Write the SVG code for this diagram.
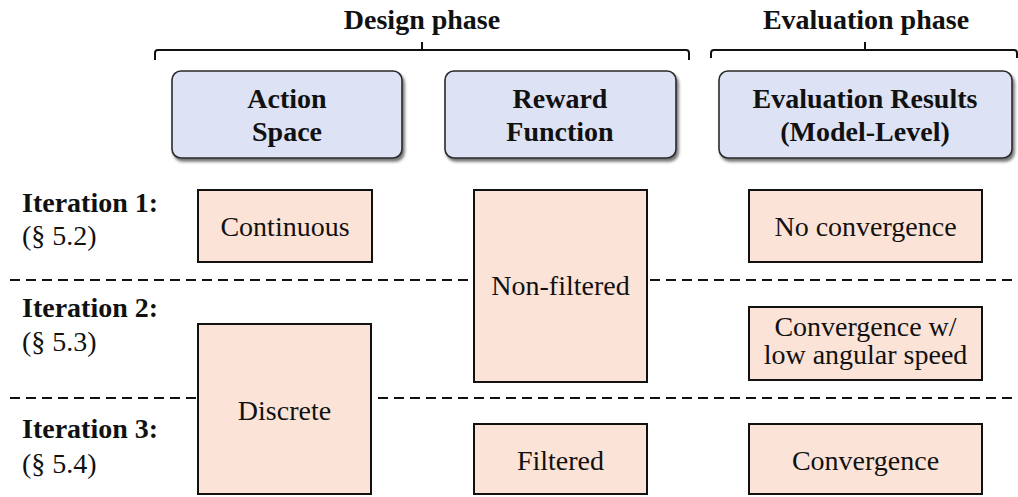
<svg xmlns="http://www.w3.org/2000/svg" width="1018" height="497" viewBox="0 0 1018 497">
  <defs>
    <filter id="shadow" x="-10%" y="-10%" width="125%" height="135%">
      <feDropShadow dx="2" dy="3" stdDeviation="1.6" flood-color="#000" flood-opacity="0.55"/>
    </filter>
    <style>
      .hdr{fill:#dde3f4;stroke:#2a2a2a;stroke-width:1.6;filter:url(#shadow);}
      .box{fill:#fbe3d7;stroke:#111;stroke-width:2;}
      .dash{stroke:#111;stroke-width:2;stroke-dasharray:10 6;fill:none;}
      .brace{stroke:#111;stroke-width:2;fill:none;}
    </style>
  </defs>
  <rect width="1018" height="497" fill="#fff"/>

  <g id="phases">
    <text x="422" y="29" font-family="Liberation Serif" font-size="28" font-weight="bold" text-anchor="middle" fill="#111">Design phase</text>
    <path class="brace" d="M155,60 V53 Q155,50 158,50 H686 Q689,50 689,53 V60 M422,50 V42"/>
    <text x="866" y="29" font-family="Liberation Serif" font-size="28" font-weight="bold" text-anchor="middle" fill="#111">Evaluation phase</text>
    <path class="brace" d="M711,58 V53 Q711,50 714,50 H1014 Q1017,50 1017,53 V58 M865,50 V42"/>
  </g>

  <g id="connectors">
    <line class="dash" x1="10" y1="280" x2="1014" y2="280"/>
    <line class="dash" x1="10" y1="398" x2="1014" y2="398"/>
  </g>

  <g id="row-labels">
    <text x="22" y="212" font-family="Liberation Serif" font-size="28" font-weight="bold" fill="#111">Iteration 1:</text>
    <text x="22" y="245" font-family="Liberation Serif" font-size="28" fill="#111">(§ 5.2)</text>
    <text x="22" y="317" font-family="Liberation Serif" font-size="28" font-weight="bold" fill="#111">Iteration 2:</text>
    <text x="22" y="351" font-family="Liberation Serif" font-size="28" fill="#111">(§ 5.3)</text>
    <text x="22" y="438" font-family="Liberation Serif" font-size="28" font-weight="bold" fill="#111">Iteration 3:</text>
    <text x="22" y="473" font-family="Liberation Serif" font-size="28" fill="#111">(§ 5.4)</text>
  </g>

  <g id="hdr-action">
    <rect class="hdr" x="172" y="71" width="230" height="87" rx="9"/>
    <text x="287" y="108" font-family="Liberation Serif" font-size="28" font-weight="bold" text-anchor="middle" fill="#111">Action</text>
    <text x="287" y="141" font-family="Liberation Serif" font-size="28" font-weight="bold" text-anchor="middle" fill="#111">Space</text>
  </g>
  <g id="hdr-reward">
    <rect class="hdr" x="445" y="71" width="231" height="87" rx="9"/>
    <text x="560" y="108" font-family="Liberation Serif" font-size="28" font-weight="bold" text-anchor="middle" fill="#111">Reward</text>
    <text x="560" y="141" font-family="Liberation Serif" font-size="28" font-weight="bold" text-anchor="middle" fill="#111">Function</text>
  </g>
  <g id="hdr-eval">
    <rect class="hdr" x="719" y="71" width="293" height="87" rx="9"/>
    <text x="865" y="108" font-family="Liberation Serif" font-size="28" font-weight="bold" text-anchor="middle" fill="#111">Evaluation Results</text>
    <text x="865" y="141" font-family="Liberation Serif" font-size="28" font-weight="bold" text-anchor="middle" fill="#111">(Model-Level)</text>
  </g>

  <g id="continuous">
    <rect class="box" x="198" y="190" width="174" height="72"/>
    <text x="285" y="236" font-family="Liberation Serif" font-size="28" text-anchor="middle" fill="#111">Continuous</text>
  </g>
  <g id="discrete">
    <rect class="box" x="198" y="324" width="173" height="170"/>
    <text x="284.5" y="420" font-family="Liberation Serif" font-size="28" text-anchor="middle" fill="#111">Discrete</text>
  </g>
  <g id="non-filtered">
    <rect class="box" x="474" y="190" width="173" height="192"/>
    <text x="560.5" y="295" font-family="Liberation Serif" font-size="28" text-anchor="middle" fill="#111">Non-filtered</text>
  </g>
  <g id="filtered">
    <rect class="box" x="474" y="424" width="173" height="70"/>
    <text x="560.5" y="470" font-family="Liberation Serif" font-size="28" text-anchor="middle" fill="#111">Filtered</text>
  </g>
  <g id="no-convergence">
    <rect class="box" x="749" y="190" width="233" height="72"/>
    <text x="865.5" y="236" font-family="Liberation Serif" font-size="28" text-anchor="middle" fill="#111">No convergence</text>
  </g>
  <g id="convergence-low">
    <rect class="box" x="749" y="307" width="233" height="73"/>
    <text x="865.5" y="336" font-family="Liberation Serif" font-size="28" text-anchor="middle" fill="#111">Convergence w/</text>
    <text x="865.5" y="364" font-family="Liberation Serif" font-size="28" text-anchor="middle" fill="#111">low angular speed</text>
  </g>
  <g id="convergence">
    <rect class="box" x="749" y="424" width="233" height="70"/>
    <text x="865.5" y="470" font-family="Liberation Serif" font-size="28" text-anchor="middle" fill="#111">Convergence</text>
  </g>
</svg>
